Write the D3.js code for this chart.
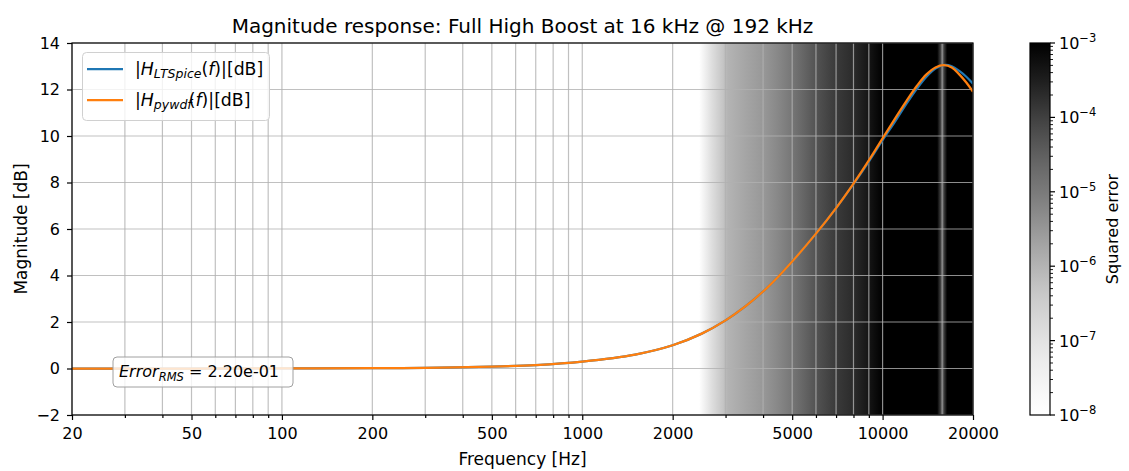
<!DOCTYPE html>
<html>
<head>
<meta charset="utf-8">
<script src="https://cdn.jsdelivr.net/npm/d3@7"></script>
<style>
  body { margin: 0; background: #fff; }
  text { font-family: "DejaVu Sans", sans-serif; fill: #000; }
</style>
</head>
<body>
<script>
// ---------- data ----------
const freqs = [20, 30, 50, 100, 200, 300, 500, 700, 1000, 1500, 2000, 2500, 3000, 3500, 4000, 4500, 5000, 6000, 7000, 8000, 9000, 10000, 11000, 12000, 13000, 14000, 15000, 16000, 17000, 18000, 19000, 20000];
const magPywdf = [0.0, 0.0, 0.0, 0.003, 0.013, 0.03, 0.08, 0.15, 0.3, 0.6, 1.0, 1.5, 2.07, 2.68, 3.31, 3.96, 4.6, 5.8, 6.9, 7.95, 8.95, 9.9, 10.75, 11.5, 12.15, 12.65, 12.95, 13.05, 12.95, 12.65, 12.3, 11.9];
const magLTSpice = [0.0, 0.0, 0.0, 0.003, 0.013, 0.03, 0.08, 0.15, 0.3, 0.6, 1.0, 1.5, 2.07, 2.68, 3.31, 3.96, 4.6, 5.8, 6.9, 7.93, 8.9, 9.82, 10.62, 11.38, 12.03, 12.55, 12.9, 13.05, 13.0, 12.8, 12.55, 12.25];

const errFreqs = [20, 2300, 2450, 2700, 2950, 3050, 3500, 4000, 4500, 5000, 6000, 7000, 8000, 9000, 10000, 15200, 15600, 15800, 16000, 16400, 20000];
const errSquared = [1e-9, 1e-9, 1e-8, 1.3e-7, 5e-7, 1e-6, 1.8e-6, 3e-6, 6e-6, 1.2e-5, 5e-5, 1.2e-4, 2e-4, 4.5e-4, 1e-3, 1e-3, 1e-4, 4e-6, 1e-4, 1e-3, 2e-3];

const xMajorTicks = [20, 50, 100, 200, 500, 1000, 2000, 5000, 10000, 20000];
const xMinorTicks = [30, 40, 60, 70, 80, 90, 300, 400, 600, 700, 800, 900, 3000, 4000, 6000, 7000, 8000, 9000];
const yTicks = [-2, 0, 2, 4, 6, 8, 10, 12, 14];
const cbExponents = [-8, -7, -6, -5, -4, -3];

const titleText = "Magnitude response: Full High Boost at 16 kHz @ 192 kHz";
const errorRms = "2.20e-01";

// ---------- layout ----------
const W = 1129, H = 471;
const L = 72, R = 973, T = 43, B = 415;
const cbL = 1030, cbR = 1050;

const svg = d3.select("body").append("svg").attr("width", W).attr("height", H);
const defs = svg.append("defs");

const x = d3.scaleLog().domain([20, 20000]).range([L, R]);
const y = d3.scaleLinear().domain([-2, 14]).range([B, T]);
const cScale = d3.scaleSequentialLog(d3.interpolateGreys).domain([1e-8, 1e-3]).clamp(true);
const cbY = d3.scaleLog().domain([1e-8, 1e-3]).range([B, T]);

// error background
const eg = defs.append("linearGradient").attr("id", "errGrad")
  .attr("gradientUnits", "userSpaceOnUse").attr("x1", L).attr("x2", R).attr("y1", 0).attr("y2", 0);
errFreqs.forEach((f, i) => {
  eg.append("stop").attr("offset", (x(f) - L) / (R - L)).attr("stop-color", cScale(errSquared[i]));
});
svg.append("rect").attr("x", L).attr("y", T).attr("width", R - L).attr("height", B - T).attr("fill", "url(#errGrad)");

// grid
const grid = svg.append("g").attr("stroke", "#b0b0b0").attr("stroke-opacity", 0.8).attr("stroke-width", 1.2);
xMajorTicks.concat(xMinorTicks).forEach(f => {
  grid.append("line").attr("x1", x(f)).attr("x2", x(f)).attr("y1", T).attr("y2", B);
});
yTicks.forEach(v => {
  grid.append("line").attr("x1", L).attr("x2", R).attr("y1", y(v)).attr("y2", y(v));
});

// curves
const clip = defs.append("clipPath").attr("id", "plotClip");
clip.append("rect").attr("x", L).attr("y", T).attr("width", R - L).attr("height", B - T);
const line = d3.line().x(d => x(d[0])).y(d => y(d[1])).curve(d3.curveCatmullRom.alpha(0.5));
const gCurves = svg.append("g").attr("clip-path", "url(#plotClip)");
gCurves.append("path").datum(freqs.map((f, i) => [f, magLTSpice[i]]))
  .attr("d", line).attr("fill", "none").attr("stroke", "#1f77b4").attr("stroke-width", 2.25);
gCurves.append("path").datum(freqs.map((f, i) => [f, magPywdf[i]]))
  .attr("d", line).attr("fill", "none").attr("stroke", "#ff7f0e").attr("stroke-width", 2.25);

// axes
const fmtY = d => d < 0 ? "\u2212" + Math.abs(d) : String(d);
const gx = svg.append("g").attr("transform", `translate(0,${B})`)
  .call(d3.axisBottom(x).tickValues(xMajorTicks).tickFormat(d => String(d)).tickSize(5).tickSizeOuter(0).tickPadding(8));
const gxm = svg.append("g").attr("transform", `translate(0,${B})`)
  .call(d3.axisBottom(x).tickValues(xMinorTicks).tickFormat("").tickSize(3).tickSizeOuter(0));
const gy = svg.append("g").attr("transform", `translate(${L},0)`)
  .call(d3.axisLeft(y).tickValues(yTicks).tickFormat(fmtY).tickSize(5).tickSizeOuter(0).tickPadding(7));
[gx, gxm, gy].forEach(g => {
  g.select(".domain").remove();
  g.selectAll("line").attr("stroke", "#000").attr("stroke-width", 1.2);
  g.selectAll("text").attr("font-size", 16).attr("font-family", "DejaVu Sans").attr("fill", "#000");
});

// spines
svg.append("rect").attr("x", L).attr("y", T).attr("width", R - L).attr("height", B - T)
  .attr("fill", "none").attr("stroke", "#000").attr("stroke-width", 1.2);

// labels
svg.append("text").attr("x", (L + R) / 2).attr("y", 33).attr("text-anchor", "middle").attr("font-size", 20).text(titleText);
svg.append("text").attr("x", (L + R) / 2).attr("y", 465).attr("text-anchor", "middle").attr("font-size", 17).text("Frequency [Hz]");
svg.append("text").attr("transform", `translate(27,${(T + B) / 2}) rotate(-90)`).attr("text-anchor", "middle").attr("font-size", 17).text("Magnitude [dB]");

// legend
const lg = svg.append("g");
lg.append("rect").attr("x", 82.5).attr("y", 52.5).attr("width", 187).attr("height", 68).attr("rx", 4)
  .attr("fill", "#fff").attr("fill-opacity", 0.8).attr("stroke", "#d0d0d0").attr("stroke-width", 1);
const legendItems = [
  { color: "#1f77b4", sub: "LTSpice", yy: 69, dxParen: 0 },
  { color: "#ff7f0e", sub: "pywdf", yy: 100, dxParen: -3 }
];
legendItems.forEach(it => {
  lg.append("line").attr("x1", 87).attr("x2", 123).attr("y1", it.yy).attr("y2", it.yy)
    .attr("stroke", it.color).attr("stroke-width", 2.25);
  const t = lg.append("text").attr("x", 135).attr("y", it.yy + 6).attr("font-size", 17.3);
  t.append("tspan").text("|");
  t.append("tspan").attr("font-style", "italic").text("H");
  t.append("tspan").attr("font-style", "italic").attr("font-size", 12.5).attr("dy", 3).text(it.sub);
  t.append("tspan").attr("dy", -3).attr("dx", it.dxParen).text("(");
  t.append("tspan").attr("font-style", "italic").text("f");
  t.append("tspan").text(")|[dB]");
});

// error box
const eb = svg.append("g");
eb.append("rect").attr("x", 113).attr("y", 357).attr("width", 180).attr("height", 30).attr("rx", 4)
  .attr("fill", "#fff").attr("fill-opacity", 0.8).attr("stroke", "#a0a0a0").attr("stroke-width", 1);
const et = eb.append("text").attr("x", 119).attr("y", 377).attr("font-size", 16);
et.append("tspan").attr("font-style", "italic").text("Error");
et.append("tspan").attr("font-style", "italic").attr("font-size", 11.5).attr("dy", 4).text("RMS");
et.append("tspan").attr("dy", -4).text(" = " + errorRms);

// colorbar
const cg = defs.append("linearGradient").attr("id", "cbGrad").attr("x1", 0).attr("x2", 0).attr("y1", 1).attr("y2", 0);
d3.range(0, 1.0001, 0.05).forEach(t => {
  cg.append("stop").attr("offset", t).attr("stop-color", d3.interpolateGreys(t));
});
svg.append("rect").attr("x", cbL).attr("y", T).attr("width", cbR - cbL).attr("height", B - T)
  .attr("fill", "url(#cbGrad)").attr("stroke", "#000").attr("stroke-width", 1.2);
const cbTicks = svg.append("g");
cbExponents.forEach(e => {
  const yy = cbY(Math.pow(10, e));
  cbTicks.append("line").attr("x1", cbR).attr("x2", cbR + 5).attr("y1", yy).attr("y2", yy).attr("stroke", "#000").attr("stroke-width", 1.2);
  const t = cbTicks.append("text").attr("x", cbR + 9).attr("y", yy + 6).attr("font-size", 16);
  t.append("tspan").text("10");
  t.append("tspan").attr("font-size", 11.5).attr("dy", -7).text("\u2212" + Math.abs(e));
  if (e < -3) {
    for (let k = 2; k <= 9; k++) {
      const ym = cbY(k * Math.pow(10, e));
      cbTicks.append("line").attr("x1", cbR).attr("x2", cbR + 3).attr("y1", ym).attr("y2", ym).attr("stroke", "#000").attr("stroke-width", 0.9);
    }
  }
});
svg.append("text").attr("transform", `translate(1118,${(T + B) / 2}) rotate(-90)`).attr("text-anchor", "middle").attr("font-size", 16).text("Squared error");
</script>
</body>
</html>
